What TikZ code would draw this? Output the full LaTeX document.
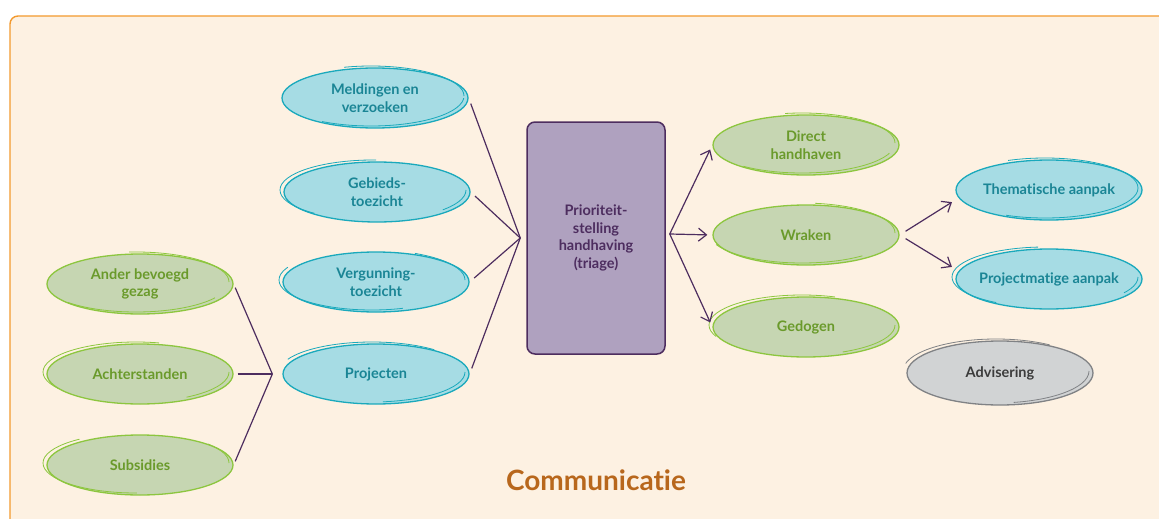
\documentclass[tikz,border=0pt]{standalone}
\usepackage{fontspec}
\setmainfont{Lato}[Ligatures=NoCommon]
\usetikzlibrary{shapes.geometric,arrows.meta}
\definecolor{panel}{HTML}{FDF1E2}
\definecolor{panelline}{HTML}{F39A2E}
\definecolor{blufill}{HTML}{A6DCE4}
\definecolor{bluline}{HTML}{1AA9BC}
\definecolor{blutext}{HTML}{1A8595}
\definecolor{grnfill}{HTML}{C6D6B2}
\definecolor{grnline}{HTML}{8DC63F}
\definecolor{grntext}{HTML}{6A9A2B}
\definecolor{gryfill}{HTML}{D1D3D4}
\definecolor{gryline}{HTML}{808285}
\definecolor{grytext}{HTML}{3C3C3C}
\definecolor{prpfill}{HTML}{AFA1BF}
\definecolor{prpline}{HTML}{4D2D5F}
\definecolor{commtext}{HTML}{B8671C}
\tikzset{
  bubble/.style={ellipse, minimum width=186pt, minimum height=60pt, inner ysep=0pt, inner xsep=-20pt,
    align=center, line width=1.3pt, font=\bfseries\fontsize{14.5}{17.5}\selectfont},
  sketch/.style={postaction={draw, line width=0.8pt, dash pattern=on 150pt off 130pt,
    dash phase=#1, transform canvas={shift={(-4pt,2pt)}}}},
  sketch/.default=0pt,
  bluebub/.style={bubble, fill=blufill, draw=bluline, text=blutext},
  greenbub/.style={bubble, fill=grnfill, draw=grnline, text=grntext},
  greybub/.style={bubble, fill=gryfill, draw=gryline, text=grytext},
  link/.style={prpline, line width=1.2pt},
  >={Straight Barb[length=8pt,width=13pt]}
}

\begin{document}
\begin{tikzpicture}[x=1pt, y=-1pt]
  \useasboundingbox (0, 0) rectangle (1159, 519);
  \draw [panelline, fill=panel, line width=1.4pt, rounded corners=8pt] (10, 16) rectangle (1190, 560);

  % centre
  \node [draw=prpline, fill=prpfill, line width=1.5pt, rounded corners=8pt, minimum width=138pt,
    minimum height=232pt, align=center, text=prpline, font=\bfseries\fontsize{14.5}{17.5}\selectfont]
    (triage) at (596, 238) {Prioriteit-\\stelling\\handhaving\\(triage)};

  % input
  \node [bluebub, sketch=20pt] (meld) at (375, 98) {Meldingen en\\verzoeken};
  \node [bluebub, sketch=180pt] (gebied) at (377, 192) {Gebieds-\\toezicht};
  \node [bluebub, sketch=90pt] (vergun) at (376, 282) {Vergunning-\\toezicht};
  \node [bluebub, sketch=240pt] (proj) at (376, 374) {Projecten};

  \node [greenbub, sketch=40pt] (ander) at (140, 284) {Ander bevoegd\\gezag};
  \node [greenbub, sketch=200pt] (achter) at (140, 374) {Achterstanden};
  \node [greenbub, sketch=120pt] (subs) at (140, 465) {Subsidies};

  % output
  \node [greenbub, sketch=30pt] (direct) at (806, 145) {Direct\\handhaven};
  \node [greenbub, sketch=60pt] (wraken) at (806, 235) {Wraken};
  \node [greenbub, sketch=210pt] (gedogen) at (806, 327) {Gedogen};
  \node [bluebub, sketch=10pt] (thema) at (1049, 190) {Thematische aanpak};
  \node [bluebub, sketch=170pt] (projm) at (1049, 279) {Projectmatige aanpak};
  \node [greybub, minimum height=64pt, sketch=230pt] (advies) at (1000, 373) {Advisering};

  \node [text=commtext, font=\bfseries\fontsize{28}{32}\selectfont] (comm) at (596, 480) {Communicatie};

  \coordinate (hubin) at ([xshift=-6pt]triage.west);
  \coordinate (hubout) at ([xshift=4pt, yshift=4pt]triage.east);
  \coordinate (hubproj) at ([xshift=-10pt]proj.west);

  \draw [link, shorten <=6pt] (meld.east) -- (hubin);
  \draw [link, shorten <=6pt] (gebied.east) -- (hubin);
  \draw [link, shorten <=6pt] (vergun.east) -- (hubin);
  \draw [link, shorten <=6pt] (proj.east) -- (hubin);

  \draw [link, shorten <=4pt] (ander.east) -- (hubproj);
  \draw [link, shorten <=4pt] (achter.east) -- (hubproj);
  \draw [link, shorten <=4pt] (subs.east) -- (hubproj);

  \draw [link, ->, shorten >=5pt] (hubout) -- (direct.west);
  \draw [link, ->, shorten >=5pt] (hubout) -- (wraken.west);
  \draw [link, ->, shorten >=5pt] (hubout) -- (gedogen.west);

  \draw [link, ->, shorten <=7pt, shorten >=4pt] (wraken.east) -- ([yshift=-10pt]thema.west);
  \draw [link, ->, shorten <=7pt, shorten >=4pt] (wraken.east) -- ([yshift=10pt]projm.west);
\end{tikzpicture}
\end{document}
